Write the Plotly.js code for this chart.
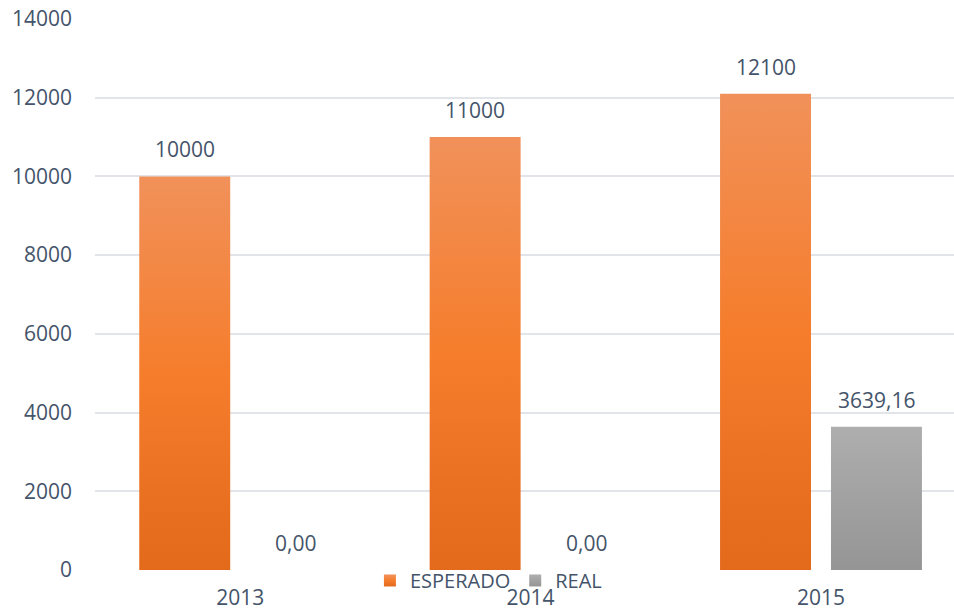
<!DOCTYPE html>
<html>
<head>
<meta charset="utf-8">
<script src="https://cdn.plot.ly/plotly-3.0.1.min.js"></script>
<style>
  html, body { margin: 0; padding: 0; background: #fff; }
  #chart { width: 954px; height: 612px; }
</style>
</head>
<body>
<div id="chart"></div>
<script>
const categories = ['2013', '2014', '2015'];
const esperado = [10000, 11000, 12100];
const real = [0, 0, 3639.16];
const esperadoLabels = ['10000', '11000', '12100'];
const realLabels = ['0,00', '0,00', '3639,16'];
const yTicks = [0, 2000, 4000, 6000, 8000, 10000, 12000, 14000];

const textColor = '#44546A';
const fontFamily = '"Open Sans", "Noto Sans", sans-serif';
const fontSize = 21;
const bargap = 0.236;
const bargroupgap = 0.18;
const marginL = 95, marginR = 0, marginT = 19, marginB = 42;
const xRange = [-0.5, 2.458];

const plotW = 954 - marginL - marginR;
const catPx = plotW / (xRange[1] - xRange[0]);
const barOffset = catPx * (1 - bargap) / 4;

const traces = [
  { type: 'bar', name: 'ESPERADO', x: categories, y: esperado,
    marker: { color: '#F27D2F' }, hoverinfo: 'skip' },
  { type: 'bar', name: 'REAL', x: categories, y: real,
    marker: { color: '#A3A3A3' }, hoverinfo: 'skip' }
];

const annotations = [];
[[esperado, esperadoLabels, -1], [real, realLabels, 1]].forEach(([vals, labels, side]) => {
  vals.forEach((v, i) => {
    annotations.push({
      xref: 'x', yref: 'y',
      x: i, y: v, text: labels[i], showarrow: false,
      xanchor: 'center', yanchor: 'bottom',
      xshift: side * barOffset, yshift: 11,
      font: { family: fontFamily, size: fontSize, color: textColor }
    });
  });
});

const layout = {
  width: 954, height: 612,
  margin: { l: marginL, r: marginR, t: marginT, b: marginB, pad: 0 },
  paper_bgcolor: '#ffffff', plot_bgcolor: '#ffffff',
  font: { family: fontFamily, size: fontSize, color: textColor },
  barmode: 'group', bargap: bargap, bargroupgap: bargroupgap,
  showlegend: true,
  legend: {
    orientation: 'h', x: 0.458, xanchor: 'center', y: -0.019, yanchor: 'middle',
    font: { family: fontFamily, size: 20, color: textColor },
    bgcolor: 'rgba(0,0,0,0)', itemwidth: 30, traceorder: 'normal'
  },
  xaxis: {
    type: 'category', range: xRange, showgrid: false, zeroline: false,
    showline: false, ticks: '', ticklabelstandoff: 13,
    tickfont: { family: fontFamily, size: fontSize, color: textColor }
  },
  yaxis: {
    range: [0, 14000], tickvals: yTicks, tickformat: 'd',
    showgrid: true, gridcolor: '#E1E5EA', gridwidth: 1.6,
    zeroline: false, showline: false, ticks: '', ticklabelstandoff: 22,
    tickfont: { family: fontFamily, size: fontSize, color: textColor }
  },
  annotations: annotations
};

Plotly.newPlot('chart', traces, layout, { displayModeBar: false }).then(() => {
  const svg = document.querySelector('#chart svg.main-svg');
  const ns = 'http://www.w3.org/2000/svg';
  let defs = svg.querySelector('defs');
  if (!defs) { defs = document.createElementNS(ns, 'defs'); svg.insertBefore(defs, svg.firstChild); }
  function grad(id, stops) {
    const g = document.createElementNS(ns, 'linearGradient');
    g.setAttribute('id', id);
    g.setAttribute('x1', '0'); g.setAttribute('y1', '0');
    g.setAttribute('x2', '0'); g.setAttribute('y2', '1');
    stops.forEach(([o, c]) => {
      const s = document.createElementNS(ns, 'stop');
      s.setAttribute('offset', o); s.setAttribute('stop-color', c);
      g.appendChild(s);
    });
    defs.appendChild(g);
  }
  grad('gOrange', [[0, '#F1915A'], [0.5, '#F57D2C'], [1, '#E3691B']]);
  grad('gGray', [[0, '#AEAEAE'], [1, '#959595']]);
  const ids = ['gOrange', 'gGray'];
  document.querySelectorAll('#chart .barlayer .trace').forEach((t, i) => {
    t.querySelectorAll('.point path').forEach(p => { p.style.fill = 'url(#' + ids[i] + ')'; });
  });
  document.querySelectorAll('#chart .legend .traces').forEach((t, i) => {
    t.querySelectorAll('.legendpoints path').forEach(p => {
      p.setAttribute('d', 'M6,6H-6V-6H6Z');
      p.style.fill = 'url(#' + ids[i] + ')';
      p.style.strokeWidth = '0';
    });
  });
});
</script>
</body>
</html>
